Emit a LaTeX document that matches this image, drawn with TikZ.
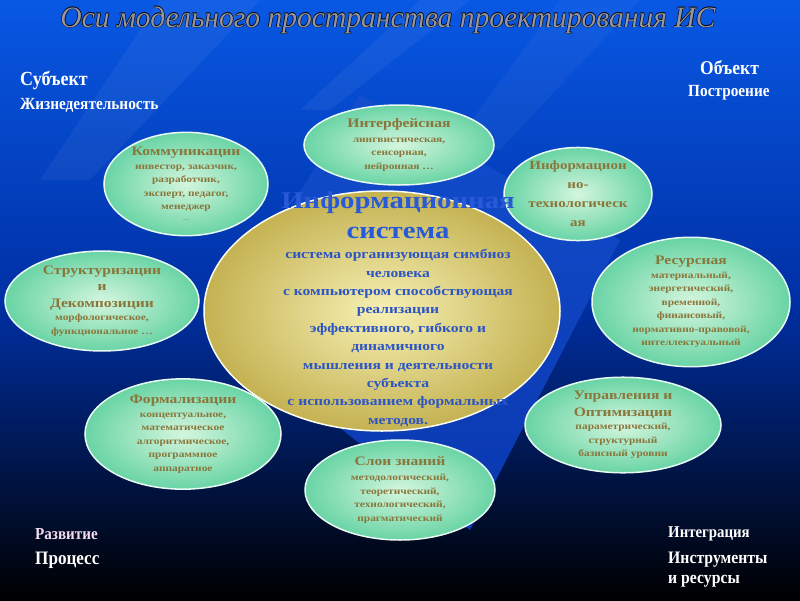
\documentclass[tikz,border=0pt]{standalone}
\usepackage{fontspec}
\usepackage{graphicx}
\usetikzlibrary{shapes.geometric}
\setmainfont{Liberation Serif}
\newfontfamily\ef[FakeStretch=1.2]{Liberation Serif}
\newfontfamily\cond[FakeStretch=0.9]{Liberation Serif}
\definecolor{bgtop}{RGB}{8,88,228}
\definecolor{bgmid}{RGB}{0,48,165}
\definecolor{dia}{RGB}{18,78,205}
\definecolor{mintin}{RGB}{212,246,222}
\definecolor{mintout}{RGB}{105,212,165}
\definecolor{goldin}{RGB}{246,240,180}
\definecolor{goldout}{RGB}{196,178,82}
\definecolor{olivetxt}{RGB}{138,118,58}
\definecolor{istxt}{RGB}{45,85,195}
\definecolor{istitle}{RGB}{40,90,215}
\definecolor{silver}{RGB}{150,150,160}
\newcommand\outl[1]{\leavevmode\rlap{\kern-0.7pt\color{black}#1}\rlap{\kern0.7pt\color{black}#1}\rlap{\raisebox{0.7pt}{\color{black}#1}}\rlap{\raisebox{-0.7pt}{\color{black}#1}}{\color{silver}#1}}
\newcommand\hd[1]{{\fontsize{13}{15}\selectfont #1}}
\tikzset{
  green/.style={ellipse, draw=white!85!mintout, line width=1.5pt, inner sep=0pt,
    inner color=mintin, outer color=mintout, align=center, text=olivetxt,
    font=\ef\bfseries\fontsize{9.5}{13.5}\selectfont},
  corner/.style={text=white, anchor=west, inner sep=0pt},
}
\begin{document}
\begin{tikzpicture}[x=1pt,y=-1pt]
\useasboundingbox (0,0) rectangle (800,600);
% background
\shade[top color=bgtop, bottom color=bgmid] (0,0) rectangle (800,300.5);
\shade[top color=bgmid, bottom color=black] (0,300) rectangle (800,600);
% streaks
\fill[white, opacity=0.05] (160,0) -- (260,0) -- (90,180) -- (40,180) -- cycle;
\fill[white, opacity=0.05] (420,0) -- (470,0) -- (330,110) -- (300,110) -- cycle;
\fill[white, opacity=0.04] (560,0) -- (640,0) -- (500,150) -- (450,150) -- cycle;
% diamond behind
\shade[top color=dia, bottom color={rgb,255:red,10;green,55;blue,175}] (360,95) -- (620,240) -- (470,530) -- (215,330) -- cycle;
% title
\node (title) at (388,20) {\resizebox{655pt}{!}{\fontsize{34}{36}\selectfont\itshape\outl{Оси модельного пространства проектирования ИС}}};
% corner labels
\node[corner, font=\cond\bfseries\fontsize{20}{22}\selectfont] (subj) at (20,80) {Субъект};
\node[corner, font=\cond\bfseries\fontsize{17}{19}\selectfont] (zhiz) at (20,105) {Жизнедеятельность};
\node[corner, font=\cond\bfseries\fontsize{19.5}{22}\selectfont] (obj) at (700,68) {Объект};
\node[corner, font=\cond\bfseries\fontsize{17}{19}\selectfont] (postr) at (688,93) {Построение};
\node[corner, text={rgb,255:red,245;green,220;blue,240}, font=\cond\bfseries\fontsize{16.8}{19}\selectfont] (razv) at (35,534) {Развитие};
\node[corner, font=\cond\bfseries\fontsize{19}{21}\selectfont] (proc) at (35,560) {Процесс};
\node[corner, font=\cond\bfseries\fontsize{16.5}{19}\selectfont] (integr) at (668,534) {Интеграция};
\node[corner, font=\cond\bfseries\fontsize{17.5}{19}\selectfont] (instr) at (668,560) {Инструменты};
\node[corner, font=\cond\bfseries\fontsize{17.5}{19}\selectfont] (ires) at (668,581) {и ресурсы};
% central ellipse
\node[ellipse, minimum width=356pt, minimum height=240pt, inner color=goldin, outer color=goldout, draw=white!80!goldin, line width=1.5pt] (is) at (382,311) {};
\node[text=istxt, font=\ef\bfseries\fontsize{13}{18.4}\selectfont, align=center] (isbody) at (398,338) {система организующая симбиоз\\человека\\с компьютером способствующая\\реализации\\эффективного, гибкого и\\динамичного\\мышления и деятельности\\субъекта\\с использованием формальных\\методов.};
% surrounding ellipses
\node[green, minimum width=190pt, minimum height=80pt] (intf) at (399,145) {\hd{Интерфейсная}\\[1pt]лингвистическая,\\сенсорная,\\нейронная \dots};
\node[green, minimum width=164pt, minimum height=88pt] (komm) at (186,184) {\hd{Коммуникации}\\инвестор, заказчик,\\разработчик,\\эксперт, педагог,\\менеджер\\[-3pt]{\tiny\dots}};
\node[green, minimum width=148pt, minimum height=82pt, font=\ef\bfseries\fontsize{12.5}{19}\selectfont] (infteh) at (578,194) {Информацион\\но-\\технологическ\\ая};
\node[green, minimum width=194pt, minimum height=94pt] (struct) at (102,301) {\hd{Структуризации}\\[3pt]\hd{и}\\[3pt]\hd{Декомпозиции}\\морфологическое,\\функциональное \dots};
\node[green, minimum width=198pt, minimum height=100pt] (res) at (691,302) {\hd{Ресурсная}\\материальный,\\энергетический,\\временной,\\финансовый,\\нормативно-правовой,\\интеллектуальный};
\node[green, minimum width=196pt, minimum height=92pt] (form) at (183,434) {\hd{Формализации}\\концептуальное,\\математическое\\алгоритмическое,\\программное\\аппаратное};
\node[green, minimum width=196pt, minimum height=84pt] (upr) at (623,425) {\hd{Управления и}\\[3pt]\hd{Оптимизации}\\параметрический,\\структурный\\базисный уровни};
\node[green, minimum width=190pt, minimum height=100pt] (sloi) at (400,490) {\hd{Слои знаний}\\[2pt]методологический,\\теоретический,\\технологический,\\прагматический};
% central title on top
\node[text=istitle, font=\ef\bfseries\fontsize{24}{30}\selectfont, align=center] (istitle) at (398,215) {Информационная\\система};
\end{tikzpicture}
\end{document}
